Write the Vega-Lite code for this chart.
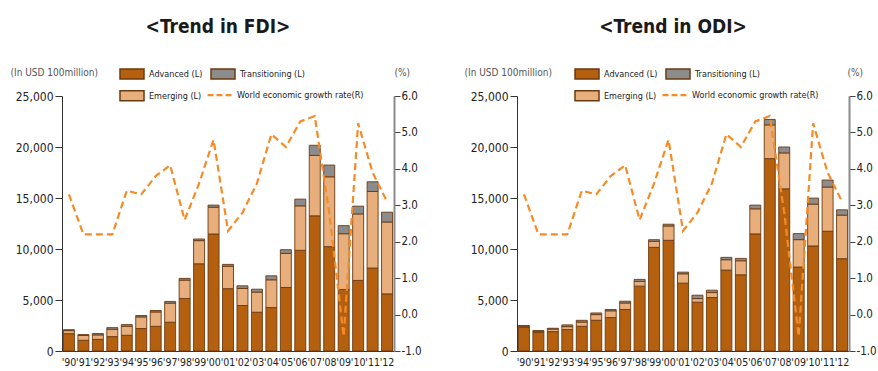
{
  "$schema": "https://vega.github.io/schema/vega-lite/v6.json",
  "padding": {"left": 10, "top": 18, "right": 0, "bottom": 0},
  "background": "white",
  "config": {
    "font": "DejaVu Sans Condensed",
    "view": {"stroke": null},
    "axis": {"grid": false},
    "legend": {"title": null, "orient": "none", "labelFontSize": 9, "labelColor": "#222"}
  },
  "bounds": "flush",
  "spacing": 123,
  "datasets": {
    "fdi": [
      {"year": "'90", "type": "Advanced (L)", "value": 1700}, {"year": "'90", "type": "Emerging (L)", "value": 300}, {"year": "'90", "type": "Transitioning (L)", "value": 90},
      {"year": "'91", "type": "Advanced (L)", "value": 1050}, {"year": "'91", "type": "Emerging (L)", "value": 470}, {"year": "'91", "type": "Transitioning (L)", "value": 90},
      {"year": "'92", "type": "Advanced (L)", "value": 1140}, {"year": "'92", "type": "Emerging (L)", "value": 440}, {"year": "'92", "type": "Transitioning (L)", "value": 130},
      {"year": "'93", "type": "Advanced (L)", "value": 1410}, {"year": "'93", "type": "Emerging (L)", "value": 720}, {"year": "'93", "type": "Transitioning (L)", "value": 160},
      {"year": "'94", "type": "Advanced (L)", "value": 1540}, {"year": "'94", "type": "Emerging (L)", "value": 880}, {"year": "'94", "type": "Transitioning (L)", "value": 170},
      {"year": "'95", "type": "Advanced (L)", "value": 2200}, {"year": "'95", "type": "Emerging (L)", "value": 1140}, {"year": "'95", "type": "Transitioning (L)", "value": 140},
      {"year": "'96", "type": "Advanced (L)", "value": 2420}, {"year": "'96", "type": "Emerging (L)", "value": 1410}, {"year": "'96", "type": "Transitioning (L)", "value": 140},
      {"year": "'97", "type": "Advanced (L)", "value": 2820}, {"year": "'97", "type": "Emerging (L)", "value": 1870}, {"year": "'97", "type": "Transitioning (L)", "value": 170},
      {"year": "'98", "type": "Advanced (L)", "value": 5150}, {"year": "'98", "type": "Emerging (L)", "value": 1800}, {"year": "'98", "type": "Transitioning (L)", "value": 170},
      {"year": "'99", "type": "Advanced (L)", "value": 8550}, {"year": "'99", "type": "Emerging (L)", "value": 2270}, {"year": "'99", "type": "Transitioning (L)", "value": 160},
      {"year": "'00", "type": "Advanced (L)", "value": 11470}, {"year": "'00", "type": "Emerging (L)", "value": 2630}, {"year": "'00", "type": "Transitioning (L)", "value": 200},
      {"year": "'01", "type": "Advanced (L)", "value": 6110}, {"year": "'01", "type": "Emerging (L)", "value": 2200}, {"year": "'01", "type": "Transitioning (L)", "value": 180},
      {"year": "'02", "type": "Advanced (L)", "value": 4460}, {"year": "'02", "type": "Emerging (L)", "value": 1670}, {"year": "'02", "type": "Transitioning (L)", "value": 260},
      {"year": "'03", "type": "Advanced (L)", "value": 3800}, {"year": "'03", "type": "Emerging (L)", "value": 1970}, {"year": "'03", "type": "Transitioning (L)", "value": 290},
      {"year": "'04", "type": "Advanced (L)", "value": 4260}, {"year": "'04", "type": "Emerging (L)", "value": 2720}, {"year": "'04", "type": "Transitioning (L)", "value": 390},
      {"year": "'05", "type": "Advanced (L)", "value": 6230}, {"year": "'05", "type": "Emerging (L)", "value": 3340}, {"year": "'05", "type": "Transitioning (L)", "value": 360},
      {"year": "'06", "type": "Advanced (L)", "value": 9870}, {"year": "'06", "type": "Emerging (L)", "value": 4360}, {"year": "'06", "type": "Transitioning (L)", "value": 660},
      {"year": "'07", "type": "Advanced (L)", "value": 13250}, {"year": "'07", "type": "Emerging (L)", "value": 5930}, {"year": "'07", "type": "Transitioning (L)", "value": 990},
      {"year": "'08", "type": "Advanced (L)", "value": 10230}, {"year": "'08", "type": "Emerging (L)", "value": 6850}, {"year": "'08", "type": "Transitioning (L)", "value": 1150},
      {"year": "'09", "type": "Advanced (L)", "value": 6030}, {"year": "'09", "type": "Emerging (L)", "value": 5470}, {"year": "'09", "type": "Transitioning (L)", "value": 790},
      {"year": "'10", "type": "Advanced (L)", "value": 6920}, {"year": "'10", "type": "Emerging (L)", "value": 6520}, {"year": "'10", "type": "Transitioning (L)", "value": 760},
      {"year": "'11", "type": "Advanced (L)", "value": 8130}, {"year": "'11", "type": "Emerging (L)", "value": 7510}, {"year": "'11", "type": "Transitioning (L)", "value": 950},
      {"year": "'12", "type": "Advanced (L)", "value": 5600}, {"year": "'12", "type": "Emerging (L)", "value": 7050}, {"year": "'12", "type": "Transitioning (L)", "value": 960}
    ],
    "odi": [
      {"year": "'90", "type": "Advanced (L)", "value": 2320}, {"year": "'90", "type": "Emerging (L)", "value": 120}, {"year": "'90", "type": "Transitioning (L)", "value": 50},
      {"year": "'91", "type": "Advanced (L)", "value": 1830}, {"year": "'91", "type": "Emerging (L)", "value": 120}, {"year": "'91", "type": "Transitioning (L)", "value": 50},
      {"year": "'92", "type": "Advanced (L)", "value": 1900}, {"year": "'92", "type": "Emerging (L)", "value": 250}, {"year": "'92", "type": "Transitioning (L)", "value": 80},
      {"year": "'93", "type": "Advanced (L)", "value": 2100}, {"year": "'93", "type": "Emerging (L)", "value": 290}, {"year": "'93", "type": "Transitioning (L)", "value": 170},
      {"year": "'94", "type": "Advanced (L)", "value": 2420}, {"year": "'94", "type": "Emerging (L)", "value": 420}, {"year": "'94", "type": "Transitioning (L)", "value": 170},
      {"year": "'95", "type": "Advanced (L)", "value": 3010}, {"year": "'95", "type": "Emerging (L)", "value": 560}, {"year": "'95", "type": "Transitioning (L)", "value": 160},
      {"year": "'96", "type": "Advanced (L)", "value": 3280}, {"year": "'96", "type": "Emerging (L)", "value": 660}, {"year": "'96", "type": "Transitioning (L)", "value": 130},
      {"year": "'97", "type": "Advanced (L)", "value": 4070}, {"year": "'97", "type": "Emerging (L)", "value": 640}, {"year": "'97", "type": "Transitioning (L)", "value": 170},
      {"year": "'98", "type": "Advanced (L)", "value": 6360}, {"year": "'98", "type": "Emerging (L)", "value": 460}, {"year": "'98", "type": "Transitioning (L)", "value": 200},
      {"year": "'99", "type": "Advanced (L)", "value": 10160}, {"year": "'99", "type": "Emerging (L)", "value": 590}, {"year": "'99", "type": "Transitioning (L)", "value": 160},
      {"year": "'00", "type": "Advanced (L)", "value": 10850}, {"year": "'00", "type": "Emerging (L)", "value": 1410}, {"year": "'00", "type": "Transitioning (L)", "value": 170},
      {"year": "'01", "type": "Advanced (L)", "value": 6650}, {"year": "'01", "type": "Emerging (L)", "value": 920}, {"year": "'01", "type": "Transitioning (L)", "value": 160},
      {"year": "'02", "type": "Advanced (L)", "value": 4780}, {"year": "'02", "type": "Emerging (L)", "value": 360}, {"year": "'02", "type": "Transitioning (L)", "value": 330},
      {"year": "'03", "type": "Advanced (L)", "value": 5240}, {"year": "'03", "type": "Emerging (L)", "value": 490}, {"year": "'03", "type": "Transitioning (L)", "value": 230},
      {"year": "'04", "type": "Advanced (L)", "value": 7930}, {"year": "'04", "type": "Emerging (L)", "value": 1020}, {"year": "'04", "type": "Transitioning (L)", "value": 230},
      {"year": "'05", "type": "Advanced (L)", "value": 7470}, {"year": "'05", "type": "Emerging (L)", "value": 1380}, {"year": "'05", "type": "Transitioning (L)", "value": 230},
      {"year": "'06", "type": "Advanced (L)", "value": 11480}, {"year": "'06", "type": "Emerging (L)", "value": 2460}, {"year": "'06", "type": "Transitioning (L)", "value": 360},
      {"year": "'07", "type": "Advanced (L)", "value": 18860}, {"year": "'07", "type": "Emerging (L)", "value": 3310}, {"year": "'07", "type": "Transitioning (L)", "value": 530},
      {"year": "'08", "type": "Advanced (L)", "value": 15900}, {"year": "'08", "type": "Emerging (L)", "value": 3520}, {"year": "'08", "type": "Transitioning (L)", "value": 580},
      {"year": "'09", "type": "Advanced (L)", "value": 8230}, {"year": "'09", "type": "Emerging (L)", "value": 2690}, {"year": "'09", "type": "Transitioning (L)", "value": 590},
      {"year": "'10", "type": "Advanced (L)", "value": 10300}, {"year": "'10", "type": "Emerging (L)", "value": 4100}, {"year": "'10", "type": "Transitioning (L)", "value": 590},
      {"year": "'11", "type": "Advanced (L)", "value": 11740}, {"year": "'11", "type": "Emerging (L)", "value": 4330}, {"year": "'11", "type": "Transitioning (L)", "value": 690},
      {"year": "'12", "type": "Advanced (L)", "value": 9050}, {"year": "'12", "type": "Emerging (L)", "value": 4270}, {"year": "'12", "type": "Transitioning (L)", "value": 520}
    ],
    "growth": [
      {"year": "'90", "rate": 3.3, "series": "World economic growth rate(R)"}, {"year": "'91", "rate": 2.2, "series": "World economic growth rate(R)"},
      {"year": "'92", "rate": 2.2, "series": "World economic growth rate(R)"}, {"year": "'93", "rate": 2.2, "series": "World economic growth rate(R)"},
      {"year": "'94", "rate": 3.4, "series": "World economic growth rate(R)"}, {"year": "'95", "rate": 3.3, "series": "World economic growth rate(R)"},
      {"year": "'96", "rate": 3.8, "series": "World economic growth rate(R)"}, {"year": "'97", "rate": 4.1, "series": "World economic growth rate(R)"},
      {"year": "'98", "rate": 2.6, "series": "World economic growth rate(R)"}, {"year": "'99", "rate": 3.6, "series": "World economic growth rate(R)"},
      {"year": "'00", "rate": 4.8, "series": "World economic growth rate(R)"}, {"year": "'01", "rate": 2.3, "series": "World economic growth rate(R)"},
      {"year": "'02", "rate": 2.8, "series": "World economic growth rate(R)"}, {"year": "'03", "rate": 3.6, "series": "World economic growth rate(R)"},
      {"year": "'04", "rate": 4.95, "series": "World economic growth rate(R)"}, {"year": "'05", "rate": 4.6, "series": "World economic growth rate(R)"},
      {"year": "'06", "rate": 5.3, "series": "World economic growth rate(R)"}, {"year": "'07", "rate": 5.45, "series": "World economic growth rate(R)"},
      {"year": "'08", "rate": 2.8, "series": "World economic growth rate(R)"}, {"year": "'09", "rate": -0.6, "series": "World economic growth rate(R)"},
      {"year": "'10", "rate": 5.25, "series": "World economic growth rate(R)"}, {"year": "'11", "rate": 3.9, "series": "World economic growth rate(R)"},
      {"year": "'12", "rate": 3.1, "series": "World economic growth rate(R)"}
    ]
  },
  "resolve": {
    "scale": {"x": "independent", "y": "independent", "color": "independent"},
    "legend": {"color": "independent"}
  },
  "hconcat": [
    {
      "width": 332,
      "height": 255,
      "title": {"text": "<Trend in FDI>", "font": "DejaVu Sans Condensed", "fontSize": 19, "fontWeight": "bold", "color": "#1a1a1a", "offset": 30, "dx": -10},
      "layer": [
        {
          "data": {"name": "fdi"},
          "mark": {"type": "bar", "stroke": "#6b3a10", "strokeWidth": 1, "strokeOpacity": 0.9},
          "encoding": {
            "x": {"field": "year", "type": "ordinal", "sort": null,
                  "scale": {"paddingInner": 0.24, "paddingOuter": 0.1},
                  "axis": {"title": null, "ticks": false, "labelAngle": 0, "labelPadding": 6, "labelFontSize": 10.5, "labelColor": "#222", "domainColor": "#333", "labelOverlap": false}},
            "y": {"field": "value", "type": "quantitative", "stack": "zero",
                  "scale": {"domain": [0, 25000], "nice": false},
                  "axis": {"values": [0, 5000, 10000, 15000, 20000, 25000], "format": ",.0f", "domainColor": "#333", "tickColor": "#333", "tickSize": 7, "labelPadding": 2, "labelFontSize": 12, "labelColor": "#222",
                           "title": "(In USD 100million)", "titleAngle": 0, "titleX": -52, "titleY": -24, "titleAlign": "left", "titleBaseline": "middle", "titleFontSize": 10, "titleFontWeight": "normal", "titleColor": "#555"}},
            "color": {"field": "type", "type": "nominal",
                      "scale": {"domain": ["Advanced (L)", "Transitioning (L)", "Emerging (L)"], "range": ["#b4600f", "#8c8c8c", "#e8ae7c"]},
                      "legend": {"direction": "horizontal", "columns": 2, "legendX": 64, "legendY": -28, "columnPadding": 5, "rowPadding": 5.7,
                                 "symbolType": "M-2.4,-1H2.4V1H-2.4Z", "symbolSize": 100, "labelOffset": 11,
                                 "encode": {"symbols": {"stroke": {"value": "#6b3a10"}, "strokeWidth": {"value": 1}}}}},
            "order": {"field": "type", "sort": "ascending"}
          }
        },
        {
          "data": {"name": "growth"},
          "mark": {"type": "line", "strokeDash": [7, 4], "strokeWidth": 2.2},
          "encoding": {
            "x": {"field": "year", "type": "ordinal", "sort": null},
            "y": {"field": "rate", "type": "quantitative",
                  "scale": {"domain": [-1, 6], "nice": false},
                  "axis": {"orient": "right", "values": [-1, 0, 1, 2, 3, 4, 5, 6], "labelExpr": "datum.value < 0 ? '-' + format(-datum.value, '.1f') : format(datum.value, '.1f')", "domainColor": "#8a8a8a", "domainWidth": 2, "tickColor": "#444", "tickSize": 6, "labelPadding": 1, "labelFontSize": 11.5, "labelColor": "#222",
                           "title": "(%)", "titleAngle": 0, "titleX": 0, "titleY": -24, "titleAlign": "left", "titleBaseline": "middle", "titleFontSize": 10, "titleFontWeight": "normal", "titleColor": "#555"}},
            "color": {"field": "series", "type": "nominal",
                      "scale": {"domain": ["World economic growth rate(R)"], "range": ["#f68b26"]},
                      "legend": {"legendX": 144, "legendY": -14.3, "symbolType": "stroke", "symbolSize": 576, "symbolStrokeWidth": 2.2, "symbolDash": [6, 3], "labelOffset": 4}}
          }
        }
      ],
      "resolve": {"scale": {"y": "independent", "color": "independent"}, "legend": {"color": "independent"}}
    },
    {
      "width": 332,
      "height": 255,
      "title": {"text": "<Trend in ODI>", "font": "DejaVu Sans Condensed", "fontSize": 19, "fontWeight": "bold", "color": "#1a1a1a", "offset": 30, "dx": -10},
      "layer": [
        {
          "data": {"name": "odi"},
          "mark": {"type": "bar", "stroke": "#6b3a10", "strokeWidth": 1, "strokeOpacity": 0.9},
          "encoding": {
            "x": {"field": "year", "type": "ordinal", "sort": null,
                  "scale": {"paddingInner": 0.24, "paddingOuter": 0.1},
                  "axis": {"title": null, "ticks": false, "labelAngle": 0, "labelPadding": 6, "labelFontSize": 10.5, "labelColor": "#222", "domainColor": "#333", "labelOverlap": false}},
            "y": {"field": "value", "type": "quantitative", "stack": "zero",
                  "scale": {"domain": [0, 25000], "nice": false},
                  "axis": {"values": [0, 5000, 10000, 15000, 20000, 25000], "format": ",.0f", "domainColor": "#333", "tickColor": "#333", "tickSize": 7, "labelPadding": 2, "labelFontSize": 12, "labelColor": "#222",
                           "title": "(In USD 100million)", "titleAngle": 0, "titleX": -53, "titleY": -24, "titleAlign": "left", "titleBaseline": "middle", "titleFontSize": 10, "titleFontWeight": "normal", "titleColor": "#555"}},
            "color": {"field": "type", "type": "nominal",
                      "scale": {"domain": ["Advanced (L)", "Transitioning (L)", "Emerging (L)"], "range": ["#b4600f", "#8c8c8c", "#e8ae7c"]},
                      "legend": {"direction": "horizontal", "columns": 2, "legendX": 64, "legendY": -28, "columnPadding": 5, "rowPadding": 5.7,
                                 "symbolType": "M-2.4,-1H2.4V1H-2.4Z", "symbolSize": 100, "labelOffset": 11,
                                 "encode": {"symbols": {"stroke": {"value": "#6b3a10"}, "strokeWidth": {"value": 1}}}}},
            "order": {"field": "type", "sort": "ascending"}
          }
        },
        {
          "data": {"name": "growth"},
          "mark": {"type": "line", "strokeDash": [7, 4], "strokeWidth": 2.2},
          "encoding": {
            "x": {"field": "year", "type": "ordinal", "sort": null},
            "y": {"field": "rate", "type": "quantitative",
                  "scale": {"domain": [-1, 6], "nice": false},
                  "axis": {"orient": "right", "values": [-1, 0, 1, 2, 3, 4, 5, 6], "labelExpr": "datum.value < 0 ? '-' + format(-datum.value, '.1f') : format(datum.value, '.1f')", "domainColor": "#8a8a8a", "domainWidth": 2, "tickColor": "#444", "tickSize": 6, "labelPadding": 1, "labelFontSize": 11.5, "labelColor": "#222",
                           "title": "(%)", "titleAngle": 0, "titleX": -2, "titleY": -24, "titleAlign": "left", "titleBaseline": "middle", "titleFontSize": 10, "titleFontWeight": "normal", "titleColor": "#555"}},
            "color": {"field": "series", "type": "nominal",
                      "scale": {"domain": ["World economic growth rate(R)"], "range": ["#f68b26"]},
                      "legend": {"legendX": 144, "legendY": -14.3, "symbolType": "stroke", "symbolSize": 576, "symbolStrokeWidth": 2.2, "symbolDash": [6, 3], "labelOffset": 4}}
          }
        }
      ],
      "resolve": {"scale": {"y": "independent", "color": "independent"}, "legend": {"color": "independent"}}
    }
  ]
}
